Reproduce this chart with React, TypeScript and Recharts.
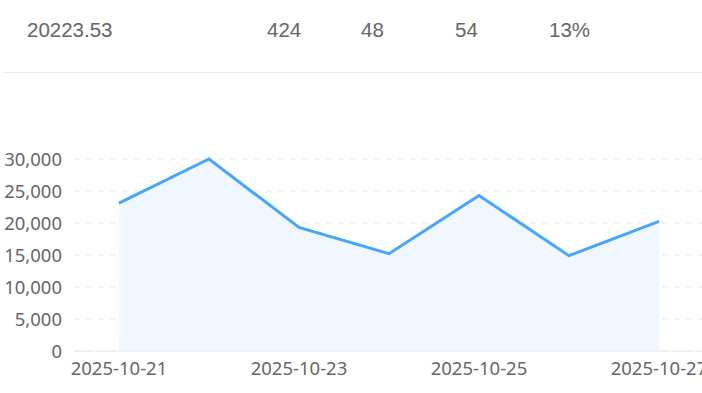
import React from 'react';
import { AreaChart, Area, XAxis, YAxis, CartesianGrid } from 'recharts';

// header figures
const headerValues = ['20223.53', '424', '48', '54', '13%'];
const headerLeft = [27, 267, 361, 455, 549];

// chart data
const dates = ['2025-10-21', '2025-10-22', '2025-10-23', '2025-10-24', '2025-10-25', '2025-10-26', '2025-10-27'];
const amounts = [23100, 30000, 19300, 15200, 24300, 14900, 20250];
const yTicks = [0, 5000, 10000, 15000, 20000, 25000, 30000];

const chartData = dates.map((d, i) => ({ date: d, value: amounts[i] }));

const fmt = (v: number) => v.toLocaleString('en-US');

export default function App() {
  return (
    <div style={{ position: 'fixed', left: 0, top: 0, width: 702, height: 393, overflow: 'hidden', background: '#fff' }}>
      {/* top summary row */}
      {headerValues.map((v, i) => (
        <div
          key={i}
          style={{
            position: 'absolute', left: headerLeft[i], top: 18,
            fontFamily: '"Liberation Sans", Arial, sans-serif', fontSize: 20.5, color: '#666',
          }}
        >
          {v}
        </div>
      ))}
      <div style={{ position: 'absolute', left: 3, top: 72, width: 699, height: 1, background: '#eeeeee' }} />

      <div style={{ position: 'absolute', left: 0, top: 0 }}>
        <AreaChart
          width={730} height={393} data={chartData}
          margin={{ top: 159, right: 26, bottom: 0, left: 0 }}
        >
          <CartesianGrid stroke="#e6e6e6" strokeDasharray="6 6" vertical={false} />
          <XAxis
            dataKey="date" interval={1} padding={{ left: 45, right: 45 }}
            axisLine={{ stroke: '#e8ebf0' }} tickLine={false} tickSize={0} tickMargin={11} height={42}
            tick={{ fontSize: 18.5, fill: '#666', fontFamily: '"Noto Sans", sans-serif' }}
          />
          <YAxis
            domain={[0, 30000]} ticks={yTicks} tickFormatter={fmt} width={74}
            axisLine={false} tickLine={false} tickSize={0} tickMargin={12}
            tick={{ fontSize: 18.5, fill: '#666', fontFamily: '"Noto Sans", sans-serif' }}
          />
          <Area
            type="linear" dataKey="value"
            stroke="#45a6fb" strokeWidth={3}
            fill="#f0f7ff" fillOpacity={1} dot={false}
            isAnimationActive={false}
          />
        </AreaChart>
      </div>
    </div>
  );
}
